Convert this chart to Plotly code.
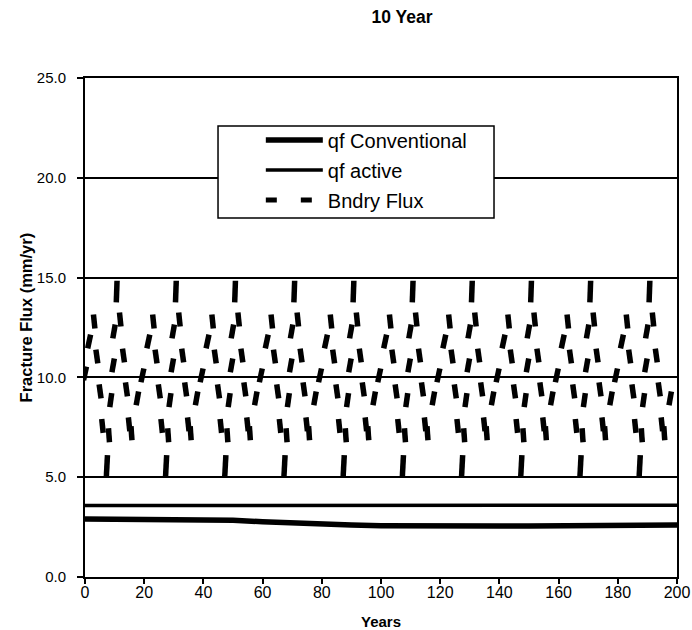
import plotly.graph_objects as go

# ---- fracture flux histories (mm/yr) ----
years = [0, 10, 20, 30, 40, 50, 60, 70, 80, 90, 100,
         110, 120, 130, 140, 150, 160, 170, 180, 190, 200]
qf_conventional = [2.90, 2.90, 2.90, 2.90, 2.89, 2.84, 2.77, 2.70, 2.64, 2.60, 2.57,
                   2.55, 2.54, 2.54, 2.55, 2.56, 2.57, 2.58, 2.59, 2.60, 2.60]
qf_active = [3.58, 3.58, 3.58, 3.58, 3.57, 3.56, 3.55, 3.55, 3.55, 3.55, 3.55,
             3.55, 3.55, 3.56, 3.57, 3.58, 3.58, 3.59, 3.60, 3.60, 3.60]

# ---- boundary flux samples along the cyclic (10-year) infiltration record ----
bndry_years = [
    0.0, 1.4, 3.1, 4.0, 5.1, 5.9, 7.4, 8.1, 8.7, 9.5, 9.8, 10.7, 11.9, 13.0, 14.0, 14.9, 15.7, 17.7, 19.4,
    21.4, 23.1, 24.0, 25.1, 25.9, 27.4, 28.1, 28.7, 29.5, 29.8, 30.7, 31.9, 33.0, 34.0, 34.9, 35.7, 37.7, 39.4,
    41.4, 43.1, 44.0, 45.1, 45.9, 47.4, 48.1, 48.7, 49.5, 49.8, 50.7, 51.9, 53.0, 54.0, 54.9, 55.7, 57.7, 59.4,
    61.4, 63.1, 64.0, 65.1, 65.9, 67.4, 68.1, 68.7, 69.5, 69.8, 70.7, 71.9, 73.0, 74.0, 74.9, 75.7, 77.7, 79.4,
    81.4, 83.1, 84.0, 85.1, 85.9, 87.4, 88.1, 88.7, 89.5, 89.8, 90.7, 91.9, 93.0, 94.0, 94.9, 95.7, 97.7, 99.4,
    101.4, 103.1, 104.0, 105.1, 105.9, 107.4, 108.1, 108.7, 109.5, 109.8, 110.7, 111.9, 113.0, 114.0, 114.9, 115.7, 117.7, 119.4,
    121.4, 123.1, 124.0, 125.1, 125.9, 127.4, 128.1, 128.7, 129.5, 129.8, 130.7, 131.9, 133.0, 134.0, 134.9, 135.7, 137.7, 139.4,
    141.4, 143.1, 144.0, 145.1, 145.9, 147.4, 148.1, 148.7, 149.5, 149.8, 150.7, 151.9, 153.0, 154.0, 154.9, 155.7, 157.7, 159.4,
    161.4, 163.1, 164.0, 165.1, 165.9, 167.4, 168.1, 168.7, 169.5, 169.8, 170.7, 171.9, 173.0, 174.0, 174.9, 175.7, 177.7, 179.4,
    181.4, 183.1, 184.0, 185.1, 185.9, 187.4, 188.1, 188.7, 189.5, 189.8, 190.7, 191.9, 193.0, 194.0, 194.9, 195.7, 197.7,
]
bndry_flux = [
    10.2, 11.8, 12.8, 11.05, 9.3, 7.57, 5.56, 7.1, 8.86, 10.6, 12.3, 14.3, 12.9, 11.1, 9.4, 7.65, 7.2, 8.95, 10.1,
    11.8, 12.8, 11.05, 9.3, 7.57, 5.56, 7.1, 8.86, 10.6, 12.3, 14.3, 12.9, 11.1, 9.4, 7.65, 7.2, 8.95, 10.1,
    11.8, 12.8, 11.05, 9.3, 7.57, 5.56, 7.1, 8.86, 10.6, 12.3, 14.3, 12.9, 11.1, 9.4, 7.65, 7.2, 8.95, 10.1,
    11.8, 12.8, 11.05, 9.3, 7.57, 5.56, 7.1, 8.86, 10.6, 12.3, 14.3, 12.9, 11.1, 9.4, 7.65, 7.2, 8.95, 10.1,
    11.8, 12.8, 11.05, 9.3, 7.57, 5.56, 7.1, 8.86, 10.6, 12.3, 14.3, 12.9, 11.1, 9.4, 7.65, 7.2, 8.95, 10.1,
    11.8, 12.8, 11.05, 9.3, 7.57, 5.56, 7.1, 8.86, 10.6, 12.3, 14.3, 12.9, 11.1, 9.4, 7.65, 7.2, 8.95, 10.1,
    11.8, 12.8, 11.05, 9.3, 7.57, 5.56, 7.1, 8.86, 10.6, 12.3, 14.3, 12.9, 11.1, 9.4, 7.65, 7.2, 8.95, 10.1,
    11.8, 12.8, 11.05, 9.3, 7.57, 5.56, 7.1, 8.86, 10.6, 12.3, 14.3, 12.9, 11.1, 9.4, 7.65, 7.2, 8.95, 10.1,
    11.8, 12.8, 11.05, 9.3, 7.57, 5.56, 7.1, 8.86, 10.6, 12.3, 14.3, 12.9, 11.1, 9.4, 7.65, 7.2, 8.95, 10.1,
    11.8, 12.8, 11.05, 9.3, 7.57, 5.56, 7.1, 8.86, 10.6, 12.3, 14.3, 12.9, 11.1, 9.4, 7.65, 7.2, 8.95,
]

x_ticks = [0, 20, 40, 60, 80, 100, 120, 140, 160, 180, 200]
y_ticks = [0, 5, 10, 15, 20, 25]

# Dash tilt within one 20-year repeat: rising limbs lean right, falling limbs lean left
tilt_cycle = [12, -6, -8, -8, -6, 3, -4, 8, 10, 10, 2, -6, -8, -8, -6, -4, 10, 12]
dash_tilt = [12] + (tilt_cycle * 10)[: len(bndry_years) - 1]
# Dashes at the crest and trough of each cycle are drawn longer
dash_len = [15.5 if (v > 14 or v < 6) else 10 for v in bndry_flux]

FONT = "Liberation Sans, Arial, Helvetica, sans-serif"

fig = go.Figure()

fig.add_trace(go.Scatter(
    x=years, y=qf_conventional, mode="lines", name="qf Conventional",
    line=dict(color="black", width=5.5), legendgroup="conv",
))
fig.add_trace(go.Scatter(
    x=years, y=qf_active, mode="lines", name="qf active",
    line=dict(color="black", width=3.5), legendgroup="active",
))
# legend key for the dashed boundary-flux series
fig.add_trace(go.Scatter(
    x=[None], y=[None], mode="lines", name="Bndry Flux",
    line=dict(color="black", width=5, dash="11px,24px"), legendgroup="bndry",
))
fig.add_trace(go.Scatter(
    x=bndry_years, y=bndry_flux, mode="markers", name="Bndry Flux",
    marker=dict(symbol="line-ns", size=dash_len, angle=dash_tilt, opacity=1,
                color="black", line=dict(color="black", width=5.5)),
    legendgroup="bndry", showlegend=False,
))

fig.update_layout(
    template="none",
    width=692, height=630,
    margin=dict(l=85, r=15, t=78, b=53),
    paper_bgcolor="white", plot_bgcolor="white",
    font=dict(family=FONT, color="black", size=15),
    title=dict(text="<b>10 Year</b>", x=0.581, xref="container", xanchor="center",
               y=0.973, yref="container", yanchor="middle",
               font=dict(size=17.5, family=FONT, color="black")),
    showlegend=True,
    legend=dict(x=0.297, y=0.915, xanchor="left", yanchor="top",
                bgcolor="rgba(0,0,0,0)", borderwidth=0,
                font=dict(size=20, family=FONT, color="black"),
                itemwidth=57, tracegroupgap=1),
    shapes=[dict(type="rect", xref="paper", yref="paper",
                 x0=0.2247, x1=0.6909, y0=0.7194, y1=0.9038,
                 line=dict(color="black", width=1.5), fillcolor="white", layer="above")],
    annotations=[dict(text="<b>Fracture Flux (mm/yr)</b>", textangle=-90,
                      xref="paper", yref="paper", x=-0.099, y=0.521,
                      xanchor="center", yanchor="middle", showarrow=False,
                      font=dict(size=16.5, family=FONT, color="black"))],
)

fig.update_xaxes(
    range=[0, 200], tickvals=x_ticks, ticks="outside", ticklen=5, tickwidth=1.5,
    tickcolor="black", showline=True, linewidth=2, linecolor="black", mirror=True,
    showgrid=False, zeroline=False, automargin=False, ticklabelstandoff=-5,
    tickfont=dict(size=16, family=FONT, color="black"),
    title=dict(text="<b>Years</b>", standoff=17, font=dict(size=15, family=FONT, color="black")),
)
fig.update_yaxes(
    range=[0, 25], tickvals=y_ticks, tickformat=".1f", ticks="outside", ticklen=6, tickwidth=1.5,
    tickcolor="black", showline=True, linewidth=2, linecolor="black", mirror=True,
    showgrid=True, gridcolor="black", gridwidth=1.5, zeroline=False, automargin=False,
    ticklabelstandoff=8,
    tickfont=dict(size=15, family=FONT, color="black"),
)

fig.write_html("out.html")
